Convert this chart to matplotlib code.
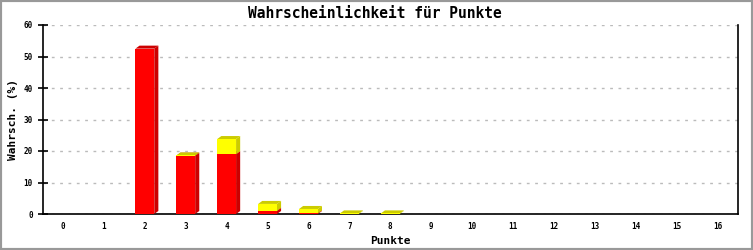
import numpy as np
import matplotlib
matplotlib.use("Agg")
import matplotlib.pyplot as plt
from matplotlib.patches import Polygon, Rectangle

# data (percent)
punkte = np.arange(17)
rot = [0, 0, 52.5, 18.5, 19.0, 1.0, 0.2, 0, 0, 0, 0, 0, 0, 0, 0, 0, 0]
gelb = [0, 0, 0, 0.1, 4.8, 2.2, 1.4, 0.2, 0.2, 0, 0, 0, 0, 0, 0, 0, 0]
yticks = [0, 10, 20, 30, 40, 50, 60]

series = [(rot, "#ff0000", "#cc0000"), (gelb, "#ffff00", "#cccc00")]

fig = plt.figure(figsize=(7.53, 2.5), dpi=100)
fig.patches.append(Rectangle((0, 0), 1, 1, transform=fig.transFigure,
                             fill=False, edgecolor="#999999", linewidth=3))
ax = fig.add_axes([43 / 753, 36 / 250, 695 / 753, 189 / 250])

width = 0.46
dx, dy = 0.1, 0.95  # depth of the 3d faces in data units

bottom = np.zeros(len(punkte))
for vals, front, dark in series:
    vals = np.array(vals)
    for x, b, h in zip(punkte, bottom, vals):
        if h <= 0:
            continue
        l, r, t = x - width / 2, x + width / 2, b + h
        # side face
        ax.add_patch(Polygon([(r, b), (r + dx, b + dy), (r + dx, t + dy), (r, t)],
                             closed=True, facecolor=dark, edgecolor="none", zorder=3))
        # top face
        ax.add_patch(Polygon([(l, t), (l + dx, t + dy), (r + dx, t + dy), (r, t)],
                             closed=True, facecolor=dark, edgecolor="none", zorder=3))
    ax.bar(punkte, vals, width=width, bottom=bottom, color=front, zorder=4,
           linewidth=0)
    bottom = bottom + vals

ax.set_xlim(-0.49, 16.5)
ax.set_ylim(0, 60)
ax.set_xticks(punkte)
ax.set_yticks(yticks)
ax.tick_params(axis="x", length=0, pad=6, labelsize=5.5)
ax.tick_params(axis="y", direction="inout", length=6.5, width=1.2, pad=4, labelsize=5.5)
for lab in ax.get_xticklabels() + ax.get_yticklabels():
    lab.set_family("DejaVu Sans Mono")
    lab.set_fontweight("bold")

ax.grid(axis="y", color="#bbbbbb", linestyle=(0, (2, 4)), linewidth=1, zorder=0)
ax.spines["top"].set_visible(False)
for s in ["left", "bottom", "right"]:
    ax.spines[s].set_linewidth(1.2)

fig.text(375 / 753, 1 - 13 / 250, "Wahrscheinlichkeit für Punkte", ha="center", va="center",
         family="DejaVu Sans Mono", fontweight="bold", fontsize=10.5)
ax.set_xlabel("Punkte", family="DejaVu Sans Mono", fontweight="bold", fontsize=8, labelpad=3)
ax.set_ylabel("Wahrsch. (%)", family="DejaVu Sans Mono", fontweight="bold", fontsize=8, labelpad=4)

fig.savefig("out.png", dpi=100)
